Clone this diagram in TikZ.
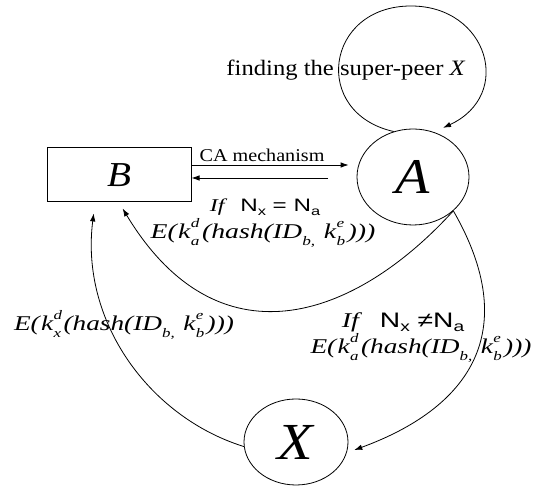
\documentclass[tikz,border=0pt]{standalone}
\usepackage{fontspec}
\setmainfont{Liberation Serif}[FakeStretch=1.12]
\setsansfont{Liberation Sans}[FakeStretch=1.12]
\usetikzlibrary{arrows.meta,shapes.geometric}
\newcommand{\supr}[1]{\raisebox{0.52em}{\scalebox{0.62}{\textit{#1}}}}
\newcommand{\subr}[1]{\raisebox{-0.3em}{\scalebox{0.62}{\textit{#1}}}}
\newcommand{\ksd}[3]{\textit{#1}\rlap{\supr{#2}}\subr{#3}\hspace{0.1em}}
\newcommand{\encr}[1]{\textit{E(}\ksd{k}{d}{#1}\textit{(hash(ID}\subr{b,}\hspace{0.35em}\ksd{k}{e}{b}\textit{)))}}
\newcommand{\nsub}[1]{N\raisebox{-0.22em}{\scalebox{0.68}{#1}}}
\begin{document}
\begin{tikzpicture}[x=1pt,y=1pt,
  conn/.style={line width=0.8pt,-{Latex[length=8pt,width=5.5pt]}},
  stateshape/.style={draw,ellipse,line width=0.8pt,inner sep=0pt},
  lbl/.style={inner sep=0pt,anchor=center},
  fsize/.style={font=\fontsize{#1}{#1}\selectfont}]
\path[use as bounding box,fill=white] (0,0) rectangle (533,486);

% nodes
\node[draw,rectangle,line width=1pt,minimum width=144pt,minimum height=54pt,inner sep=0pt,fsize=35] (B) at (119,311) {\textit{B}};
\node[stateshape,minimum width=112pt,minimum height=96pt,fsize=50] (A) at (413,309) {\textit{A}};
\node[stateshape,minimum width=104pt,minimum height=86pt,fsize=52] (X) at (296,44) {\textit{X}};

% labels
\node[lbl,fsize=22] (lfind) at (346,416) {finding the super-peer \textit{X}};
\node[lbl,fsize=18] (lca) at (262,331) {CA mechanism};
\node[lbl,fsize=18] (leq) at (265,279) {\scalebox{1.2}[1]{\textit{If}\hspace{0.6em}\textsf{\nsub{x} = \nsub{a}}}};
\node[lbl,fsize=21] (leqe) at (263,253) {\scalebox{1.18}[1]{\encr{a}}};
\node[lbl,fsize=21] (lneq) at (403,164) {\scalebox{1.2}[1]{\textit{If}\hspace{0.7em}\textsf{\nsub{x} ≠\nsub{a}}}};
\node[lbl,fsize=21] (lneqe) at (421,138) {\scalebox{1.16}[1]{\encr{a}}};
\node[lbl,fsize=21] (lx) at (124,161) {\scalebox{1.16}[1]{\encr{x}}};

% self loop
\coordinate (looptop) at (411,480);
\draw[conn,shorten >=10pt] (A.113)
  .. controls (311,373) and (325,480) .. (looptop)
  .. controls (488,480) and (514,391) .. (A.65);

% B <-> A
\draw[conn,shorten >=8pt] ([yshift=10pt]B.east) -- ([yshift=12pt]A.west);
\coordinate (lowstart) at (328,308);
\draw[conn] (lowstart) -- ([yshift=-3pt]B.east);

% A -> B (Nx = Na)
\draw[conn,shorten >=7pt] (A.-40)
  .. controls (352,164) and (217,121) .. (B.south);
% A -> X (Nx != Na)
\draw[conn,shorten >=8pt] (A.-40)
  .. controls (523,154) and (469,78) .. (X.-12);
% X -> B
\draw[conn,shorten >=11pt] (X.185)
  .. controls (149,69) and (80,165) .. (B.229);
\end{tikzpicture}
\end{document}
